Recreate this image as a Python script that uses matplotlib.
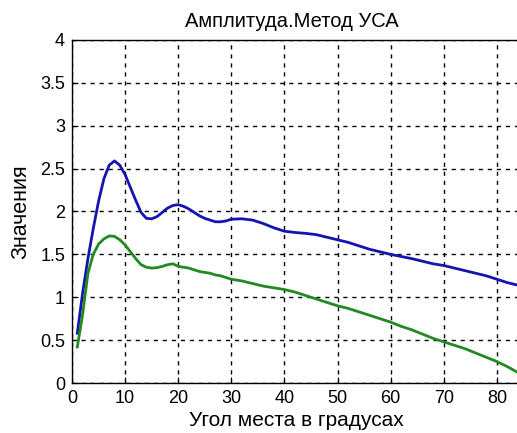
import matplotlib
matplotlib.use("Agg")
import matplotlib.pyplot as plt
from matplotlib.ticker import FuncFormatter

plt.rcParams['font.family'] = ['Liberation Sans', 'DejaVu Sans']

# Elevation angle, degrees
angle_blue = [1, 2, 3, 4, 5, 6, 7, 8, 9, 10, 11, 12, 13, 14, 15, 16, 17, 18, 19, 20,
              21, 22, 23, 24, 25, 26, 27, 28, 29, 30, 32, 34, 36, 38, 40, 42, 44, 46,
              48, 50, 52, 54, 56, 58, 60, 62, 64, 66, 68, 70, 72, 74, 76, 78, 80, 82,
              84, 86]
amp_blue = [0.58, 1.05, 1.45, 1.80, 2.12, 2.38, 2.54, 2.59, 2.54, 2.43, 2.28, 2.13,
            1.99, 1.92, 1.915, 1.94, 1.99, 2.04, 2.07, 2.08, 2.06, 2.03, 1.99, 1.95,
            1.92, 1.90, 1.88, 1.88, 1.89, 1.91, 1.915, 1.90, 1.86, 1.81, 1.77, 1.755,
            1.745, 1.73, 1.70, 1.67, 1.64, 1.60, 1.56, 1.53, 1.50, 1.475, 1.45, 1.42,
            1.39, 1.37, 1.34, 1.31, 1.28, 1.25, 1.21, 1.17, 1.14, 1.11]

angle_green = angle_blue
amp_green = [0.42, 0.80, 1.28, 1.50, 1.62, 1.68, 1.715, 1.71, 1.67, 1.61, 1.53, 1.45,
             1.38, 1.35, 1.34, 1.345, 1.36, 1.38, 1.39, 1.36, 1.35, 1.34, 1.32, 1.30,
             1.29, 1.28, 1.26, 1.25, 1.23, 1.21, 1.19, 1.16, 1.13, 1.11, 1.09, 1.06,
             1.02, 0.98, 0.94, 0.90, 0.87, 0.83, 0.79, 0.75, 0.71, 0.66, 0.62, 0.57,
             0.52, 0.48, 0.44, 0.40, 0.35, 0.30, 0.25, 0.19, 0.12, 0.07]

x_ticks = [0, 10, 20, 30, 40, 50, 60, 70, 80]
y_ticks = [0, 0.5, 1, 1.5, 2, 2.5, 3, 3.5, 4]

fig = plt.figure(figsize=(5.17, 4.33), dpi=100)
ax = fig.add_axes([72 / 517, 50 / 433, 478 / 517, 343 / 433])

ax.plot(angle_blue, amp_blue, color='#1414b0', lw=2.0)
ax.plot(angle_green, amp_green, color='#218a21', lw=2.0)

ax.set_xlim(0, 90)
ax.set_ylim(0, 4)
ax.set_xticks(x_ticks)
ax.set_yticks(y_ticks)
ax.yaxis.set_major_formatter(FuncFormatter(lambda v, p: f"{v:g}"))
ax.tick_params(direction='in', length=4, labelsize=13, colors='black', pad=5)

ax.grid(True, color='black', linestyle=(0, (3, 3.5)), linewidth=1.0)
for s in ax.spines.values():
    s.set_linewidth(1.0)

ax.set_title('Амплитуда.Метод УСА', fontsize=14.5, pad=9)
ax.set_xlabel('Угол места в градусах', fontsize=15)
ax.set_ylabel('Значения', fontsize=15.5, labelpad=6)

# keep labels centred on the visible part of the canvas
ax.xaxis.set_label_coords((296 - 72) / 478, -0.082)
ax.title.set_position(((292 - 72) / 478, 1.0))

fig.savefig('out.png', dpi=100)
